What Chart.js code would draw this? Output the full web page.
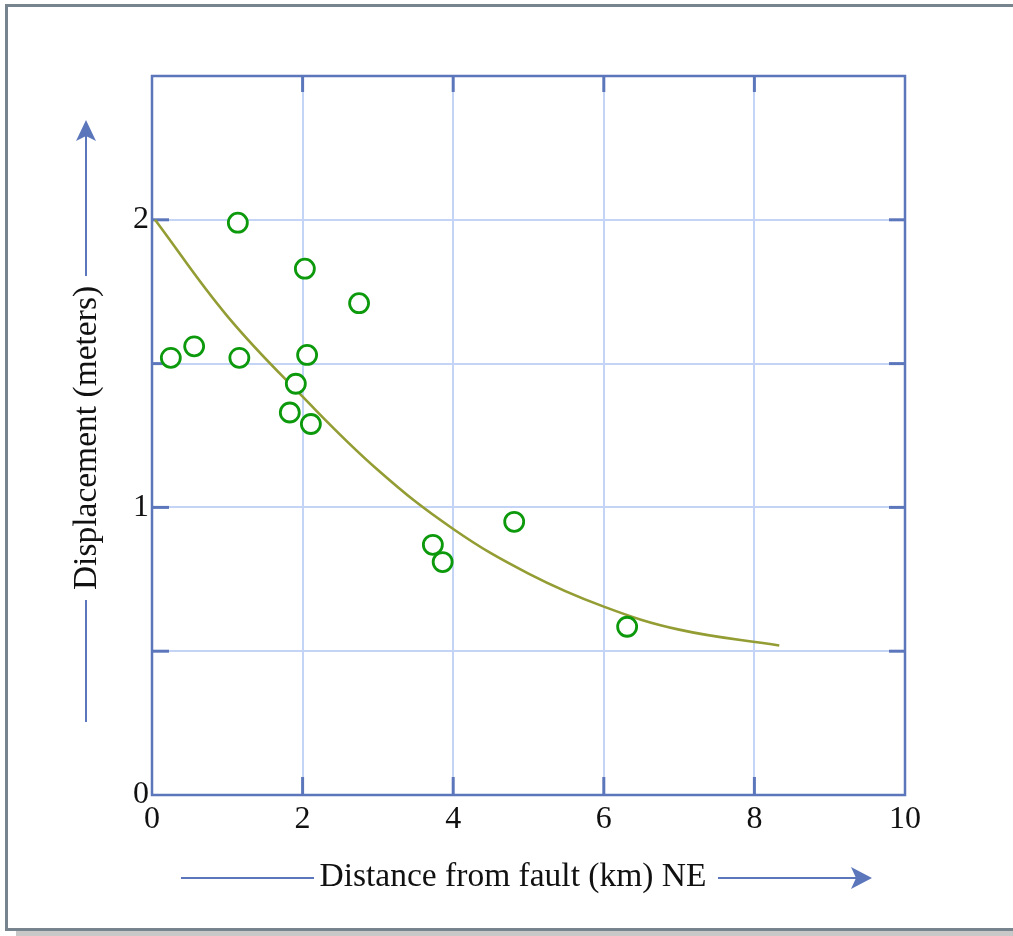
<!DOCTYPE html>
<html>
<head>
<meta charset="utf-8">
<script src="https://cdn.jsdelivr.net/npm/chart.js@4/dist/chart.umd.min.js"></script>
<style>
  html, body { margin: 0; padding: 0; background: #fff; overflow: hidden; }
  #frame { position: absolute; left: 5px; top: 4px; width: 1020px; height: 927px;
           border-left: 3px solid #78848d; border-top: 3px solid #78848d; border-bottom: 3px solid #78848d;
           box-sizing: border-box; }
  #shadow { position: absolute; left: 16px; top: 931px; width: 1000px; height: 5px; background: #c8c8c8; }
  #wrap { position: absolute; left: 0; top: 0; width: 1013px; height: 936px; }
</style>
</head>
<body>
<div id="shadow"></div>
<div id="frame"></div>
<div id="wrap"><canvas id="c"></canvas></div>
<script>
// observed points (km, m)
const distKm = [0.25, 0.56, 1.14, 1.16, 2.03, 2.06, 1.91, 1.83, 2.11, 2.75, 3.73, 3.86, 4.81, 6.31];
const dispM  = [1.52, 1.56, 1.99, 1.52, 1.83, 1.53, 1.43, 1.33, 1.29, 1.71, 0.87, 0.81, 0.95, 0.585];

// fitted curve
const curveX = [0.04, 1, 2, 3, 4, 5, 6, 7, 8.33];
const curveY = [2.0, 1.665, 1.385, 1.13, 0.925, 0.77, 0.655, 0.575, 0.52];

const xTicks = [0, 2, 4, 6, 8, 10];
const yTicks = [0, 1, 2];

const xTitle = 'Distance from fault (km) NE';
const yTitle = 'Displacement (meters)';

const AXIS = '#5b76bb';
const GRID = '#c3d4f6';
const SERIF = '"Liberation Serif", "DejaVu Serif", serif';

const pts = distKm.map((x, i) => ({ x: x, y: dispM[i] }));
const curve = curveX.map((x, i) => ({ x: x, y: curveY[i] }));

const decor = {
  id: 'decor',
  beforeDatasetsDraw(chart) {
    const { ctx, chartArea: a, scales } = chart;
    ctx.save();
    ctx.strokeStyle = AXIS;
    ctx.lineWidth = 3;
    // inward tick marks on all four sides
    for (let v = 0.5; v < 2.5; v += 0.5) {
      const y = scales.y.getPixelForValue(v);
      ctx.beginPath(); ctx.moveTo(a.left, y); ctx.lineTo(a.left + 17, y); ctx.stroke();
      ctx.beginPath(); ctx.moveTo(a.right, y); ctx.lineTo(a.right - 16, y); ctx.stroke();
    }
    for (let v = 2; v < 10; v += 2) {
      const x = scales.x.getPixelForValue(v);
      ctx.beginPath(); ctx.moveTo(x, a.top); ctx.lineTo(x, a.top + 16); ctx.stroke();
      ctx.beginPath(); ctx.moveTo(x, a.bottom); ctx.lineTo(x, a.bottom - 18); ctx.stroke();
    }
    ctx.restore();
  },
  afterDraw(chart) {
    const { ctx, chartArea: a } = chart;
    ctx.save();
    ctx.strokeStyle = AXIS;
    ctx.fillStyle = AXIS;
    ctx.lineWidth = 2.5;
    // plot frame
    ctx.strokeRect(a.left, a.top, a.right - a.left, a.bottom - a.top);

    ctx.lineWidth = 2;
    // x title with arrow
    ctx.beginPath(); ctx.moveTo(181, 878); ctx.lineTo(314, 878); ctx.stroke();
    ctx.beginPath(); ctx.moveTo(718, 878); ctx.lineTo(862, 878); ctx.stroke();
    ctx.beginPath(); ctx.moveTo(872, 878); ctx.lineTo(851, 867); ctx.lineTo(856, 878); ctx.lineTo(851, 889); ctx.closePath(); ctx.fill();
    // y title with arrow
    ctx.beginPath(); ctx.moveTo(86, 722); ctx.lineTo(86, 600); ctx.stroke();
    ctx.beginPath(); ctx.moveTo(86, 276); ctx.lineTo(86, 130); ctx.stroke();
    ctx.beginPath(); ctx.moveTo(86, 120); ctx.lineTo(76, 141); ctx.lineTo(86, 136); ctx.lineTo(96, 141); ctx.closePath(); ctx.fill();

    ctx.fillStyle = '#111';
    ctx.font = '33.5px ' + SERIF;
    ctx.textAlign = 'center';
    ctx.textBaseline = 'middle';
    ctx.fillText(xTitle, 513, 877);
    ctx.translate(87, 438);
    ctx.rotate(-Math.PI / 2);
    ctx.fillText(yTitle, 0, 0);
    ctx.restore();
  }
};

new Chart(document.getElementById('c'), {
  data: {
    datasets: [
      {
        type: 'scatter',
        data: pts,
        pointRadius: 9.5,
        pointHoverRadius: 9.5,
        pointBorderWidth: 2.8,
        pointBorderColor: '#0c990c',
        pointBackgroundColor: '#ffffff',
        order: 0
      },
      {
        type: 'line',
        data: curve,
        borderColor: '#939d33',
        borderWidth: 2.6,
        pointRadius: 0,
        fill: false,
        tension: 0.4,
        order: 1
      }
    ]
  },
  options: {
    responsive: true,
    maintainAspectRatio: false,
    animation: false,
    layout: { padding: { top: 76, right: 108, left: 0, bottom: 0 } },
    plugins: { legend: { display: false }, tooltip: { enabled: false } },
    scales: {
      x: {
        type: 'linear',
        min: 0, max: 10,
        afterBuildTicks: s => { s.ticks = xTicks.map(v => ({ value: v })); },
        afterFit: s => { s.height = 936 - 795; },
        grid: { color: GRID, lineWidth: 2, drawTicks: false },
        border: { display: false },
        ticks: { color: '#111', font: { family: SERIF, size: 32 }, padding: 5, maxRotation: 0 }
      },
      y: {
        type: 'linear',
        min: 0, max: 2.5,
        afterBuildTicks: s => { s.ticks = [0, 0.5, 1, 1.5, 2, 2.5].map(v => ({ value: v })); },
        afterFit: s => { s.width = 152; },
        grid: { color: GRID, lineWidth: 2, drawTicks: false },
        border: { display: false },
        ticks: {
          color: '#111', font: { family: SERIF, size: 32 }, padding: 3,
          callback: v => yTicks.includes(v) ? String(v) : ''
        }
      }
    }
  },
  plugins: [decor]
});
</script>
</body>
</html>
